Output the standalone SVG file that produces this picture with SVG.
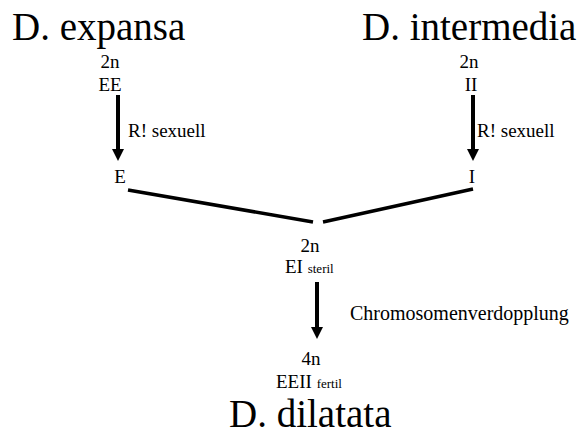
<svg xmlns="http://www.w3.org/2000/svg" width="581" height="432" viewBox="0 0 581 432" font-family="Liberation Serif, DejaVu Serif, serif">
<style>
text{font-family:"Liberation Serif","DejaVu Serif",serif;fill:#000}
.big{font-size:39px}
.sm{font-size:19px}
.md{font-size:20px}
.xs{font-size:13px}
.arr{stroke:#000;stroke-width:4;fill:none}
.ln{stroke:#000;stroke-width:3.5;fill:none}
</style>
<defs>
<marker id="ah" markerUnits="userSpaceOnUse" markerWidth="14" markerHeight="12" refX="0" refY="6" orient="auto" viewBox="0 0 14 12">
<path d="M0,0 L12,6 L0,12 Z" fill="#000"/>
</marker>
</defs>
<rect width="581" height="432" fill="#fff"/>
<g id="expansa">
<text class="big" x="12" y="40">D. expansa</text>
<text class="sm" x="110" y="68" text-anchor="middle">2n</text>
<text class="sm" x="110" y="91" text-anchor="middle">EE</text>
<text class="sm" x="120" y="183" text-anchor="middle">E</text>
</g>
<g id="intermedia">
<text class="big" x="362" y="40">D. intermedia</text>
<text class="sm" x="469" y="68" text-anchor="middle">2n</text>
<text class="sm" x="471" y="91" text-anchor="middle">II</text>
<text class="sm" x="472" y="183" text-anchor="middle">I</text>
</g>
<g id="hybrid">
<text class="sm" x="310" y="252" text-anchor="middle">2n</text>
<text x="285" y="273"><tspan class="sm">EI </tspan><tspan class="xs">steril</tspan></text>
</g>
<g id="dilatata">
<text class="sm" x="311" y="365" text-anchor="middle">4n</text>
<text x="276" y="388"><tspan class="sm">EEII </tspan><tspan class="xs">fertil</tspan></text>
<text class="big" x="229" y="427">D. dilatata</text>
</g>
<g id="connectors">
<line class="arr" x1="118" y1="95" x2="118" y2="149" marker-end="url(#ah)"/>
<text class="sm" x="128" y="137">R! sexuell</text>
<line class="arr" x1="473" y1="95" x2="473" y2="149" marker-end="url(#ah)"/>
<text class="sm" x="477" y="137">R! sexuell</text>
<line class="ln" x1="128" y1="190" x2="313" y2="222"/>
<line class="ln" x1="323" y1="222" x2="473" y2="189"/>
<line class="arr" x1="317" y1="282" x2="317" y2="327" marker-end="url(#ah)"/>
<text class="md" x="350" y="320">Chromosomenverdopplung</text>
</g>
</svg>
